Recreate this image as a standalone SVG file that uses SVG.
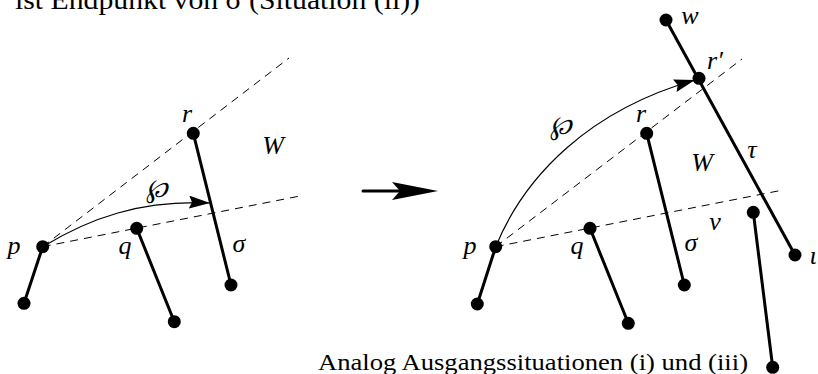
<svg xmlns="http://www.w3.org/2000/svg" width="818" height="374" viewBox="0 0 818 374">
<defs>
<style>
.seg{stroke:#000;stroke-width:3;fill:none;stroke-linecap:round}
.dash{stroke:#000;stroke-width:1;fill:none;stroke-dasharray:8 6}
.curve{stroke:#000;stroke-width:1.2;fill:none}
.dot{fill:#000}
.m{font-family:"Liberation Serif","DejaVu Serif",serif;font-style:italic;font-size:26px;fill:#000;text-anchor:middle}
.t{font-family:"Liberation Serif","DejaVu Serif",serif;font-size:23px;fill:#000}
</style>
<marker id="ah" markerWidth="21" markerHeight="13" refX="21" refY="6.5" orient="auto" markerUnits="userSpaceOnUse">
<path d="M0,0 L21,6.5 L0,13 L3,6.5 Z" fill="#000"/>
</marker>
</defs>
<text class="t" x="15" y="9" textLength="405" lengthAdjust="spacingAndGlyphs" style="font-size:27px">ist Endpunkt von σ (Situation (ii))</text>
<g id="connectors">
<path class="dash" d="M42.7,246.7 L289,58"/>
<path class="dash" d="M42.7,246.7 L300,196"/>
<path class="curve" d="M42.7,246.7 C90,218 140,200 210,203" marker-end="url(#ah)"/>
<path class="dash" d="M495.7,246.7 L742,59"/>
<path class="dash" d="M495.7,246.7 L783,190"/>
<path class="curve" d="M495.7,246.7 C525,175 590,110 695,80" marker-end="url(#ah)"/>
<line class="seg" x1="363" y1="191" x2="402" y2="191" stroke-linecap="butt"/>
<polygon points="438,191 392,182 400,191 392,200" fill="#000"/>
</g>
<g id="left-p"><line class="seg" x1="42.7" y1="246.7" x2="24" y2="303.3"/><circle class="dot" cx="42.7" cy="246.7" r="6.5"/><circle class="dot" cx="24" cy="303.3" r="6.5"/><text class="m" x="14" y="254">p</text></g>
<g id="left-q"><line class="seg" x1="136.7" y1="228.3" x2="174.3" y2="321.7"/><circle class="dot" cx="136.7" cy="228.3" r="6.5"/><circle class="dot" cx="174.3" cy="321.7" r="6.5"/><text class="m" x="125" y="254">q</text></g>
<g id="left-r"><line class="seg" x1="193.3" y1="133.3" x2="231" y2="285"/><circle class="dot" cx="193.3" cy="133.3" r="6.5"/><circle class="dot" cx="231" cy="285" r="6.5"/><text class="m" x="187" y="122">r</text><text class="m" x="239" y="252">σ</text></g>
<g id="left-labels"><text class="m" x="273" y="154">W</text><text class="m" x="157" y="197">℘</text></g>
<g id="right-p"><line class="seg" x1="495.7" y1="246.7" x2="477.3" y2="304"/><circle class="dot" cx="495.7" cy="246.7" r="6.5"/><circle class="dot" cx="477.3" cy="304" r="6.5"/><text class="m" x="470" y="254">p</text></g>
<g id="right-q"><line class="seg" x1="590" y1="228.3" x2="628.3" y2="323.3"/><circle class="dot" cx="590" cy="228.3" r="6.5"/><circle class="dot" cx="628.3" cy="323.3" r="6.5"/><text class="m" x="577" y="254">q</text></g>
<g id="right-r"><line class="seg" x1="646.7" y1="133.3" x2="684.3" y2="285"/><circle class="dot" cx="646.7" cy="133.3" r="6.5"/><circle class="dot" cx="684.3" cy="285" r="6.5"/><text class="m" x="641" y="122">r</text><text class="m" x="691" y="251">σ</text></g>
<g id="right-tau"><line class="seg" x1="666" y1="20" x2="795" y2="255"/><circle class="dot" cx="666" cy="20" r="6.5"/><circle class="dot" cx="699" cy="78.3" r="6.5"/><circle class="dot" cx="795" cy="255" r="6.5"/><text class="m" x="690" y="24">w</text><text class="m" x="715" y="69">r′</text><text class="m" x="752" y="158">τ</text><text class="m" x="813" y="264">ι</text></g>
<g id="right-v"><line class="seg" x1="753.3" y1="212.3" x2="772.7" y2="367.3"/><circle class="dot" cx="753.3" cy="212.3" r="6.5"/><circle class="dot" cx="772.7" cy="367.3" r="6.5"/><text class="m" x="715" y="230">v</text></g>
<g id="right-labels"><text class="m" x="702" y="171">W</text><text class="m" x="561" y="134">℘</text></g>
<text class="t" x="318" y="370" textLength="430" lengthAdjust="spacingAndGlyphs">Analog Ausgangssituationen (i) und (iii)</text>
</svg>
